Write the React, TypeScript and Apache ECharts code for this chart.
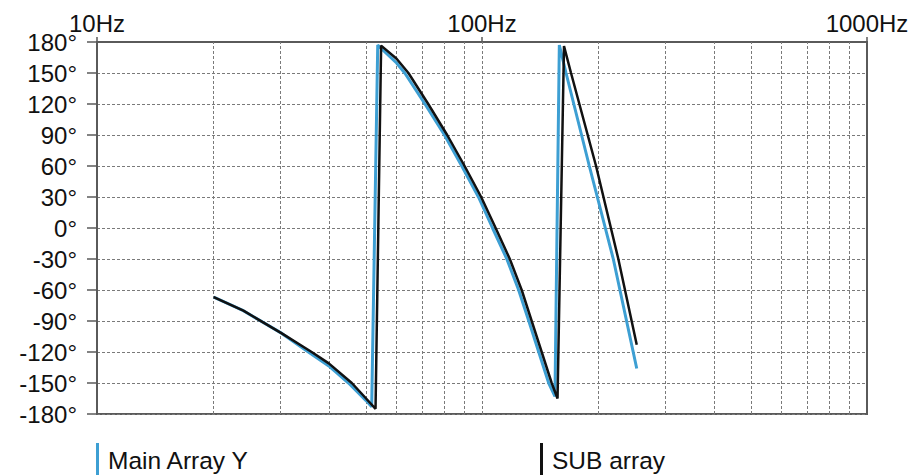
import React, { useEffect, useRef } from "react";
import * as echarts from "echarts";

// Frequencies (Hz) and phase (degrees)
const mainFreq = [
  20.1, 24.0, 30.2, 35.4, 40.0, 45.0, 50.0, 51.7,
  53.6, 60.0, 63.0, 71.1, 79.9, 88.6, 97.9, 106.5, 116.0, 124.5, 132.3, 140.4, 149.0, 154.7,
  158.8, 165.3, 190.0, 219.3, 252.3,
];
const mainPhase = [
  -67, -80, -102, -120, -133.5, -150, -167, -173,
  177, 159.7, 150, 120, 90, 60, 30, 0, -30, -60, -90, -120, -150, -163,
  177, 150, 60, -30, -136,
];

const subFreq = [
  20.1, 24.0, 30.2, 36.1, 40.0, 45.9, 50.0, 52.9,
  54.7, 60.0, 64.4, 72.5, 81.2, 90.1, 99.5, 108.5, 118.1, 126.8, 134.6, 142.9, 151.7, 157.1,
  163.3, 170.3, 197.8, 226.0, 252.3,
];
const subPhase = [
  -67, -80, -102, -120, -131, -150, -165, -175,
  176.5, 163.8, 150, 120, 90, 60, 30, 0, -30, -60, -90, -120, -150, -165,
  176, 150, 60, -30, -113,
];

const gridFreqs = [20, 30, 40, 50, 60, 70, 80, 90, 100, 200, 300, 400, 500, 600, 700, 800, 900];

const seriesNames = ["Main Array Y", "SUB array"];
const seriesColors = ["#3d9fd3", "#111111"];

const AXIS_COLOR = "#5a5a5a";
const GRID_COLOR = "#7a7a7a";
const FONT = "'Liberation Sans', Arial, Helvetica, sans-serif";

function zip(xs: number[], ys: number[]) {
  return xs.map((x, i) => [x, ys[i]]);
}

export default function App() {
  const ref = useRef<HTMLDivElement>(null);
  useEffect(() => {
    if (!ref.current) return;
    const chart = echarts.init(ref.current, undefined, { renderer: "svg" });
    chart.setOption({
      animation: false,
      textStyle: { fontFamily: FONT, fontWeight: "normal" },
      grid: {
        left: 97,
        right: 51,
        top: 42,
        bottom: 61,
        show: true,
        borderColor: AXIS_COLOR,
        borderWidth: 2,
      },
      xAxis: {
        type: "log",
        logBase: 10,
        min: 10,
        max: 1000,
        position: "top",
        axisLine: { show: true, onZero: false, lineStyle: { color: AXIS_COLOR, width: 2 } },
        axisTick: { show: true, inside: false, length: 5, lineStyle: { color: AXIS_COLOR, width: 1.5 } },
        axisLabel: {
          margin: 7,
          fontSize: 24,
          fontWeight: "normal",
          color: "#111",
          fontFamily: FONT,
          formatter: (v: number) => `${Math.round(v)}Hz`,
        },
        splitLine: { show: false },
      },
      yAxis: {
        type: "value",
        min: -180,
        max: 180,
        interval: 30,
        axisLine: { show: true, onZero: false, lineStyle: { color: AXIS_COLOR, width: 2 } },
        axisTick: { show: true, inside: false, length: 10, lineStyle: { color: AXIS_COLOR, width: 1.5 } },
        axisLabel: {
          margin: 20,
          fontSize: 24,
          fontWeight: "normal",
          color: "#111",
          fontFamily: FONT,
          formatter: (v: number) => `${v}°`,
        },
        splitLine: { show: true, lineStyle: { color: GRID_COLOR, width: 1, type: [3, 2] } },
      },
      legend: [
        {
          data: [seriesNames[0]],
          left: 96,
          top: 443,
          padding: 0,
          icon: "rect",
          itemWidth: 3,
          itemHeight: 35,
          textStyle: { fontSize: 24.5, color: "#111", fontFamily: FONT, padding: [0, 0, 0, 4] },
        },
        {
          data: [seriesNames[1]],
          left: 540,
          top: 443,
          padding: 0,
          icon: "rect",
          itemWidth: 3,
          itemHeight: 35,
          textStyle: { fontSize: 24.5, color: "#111", fontFamily: FONT, padding: [0, 0, 0, 4] },
        },
      ],
      series: [
        {
          name: "grid",
          type: "line",
          data: [],
          silent: true,
          markLine: {
            silent: true,
            symbol: ["none", "none"],
            label: { show: false },
            lineStyle: { color: GRID_COLOR, width: 1, type: [3, 2] },
            data: gridFreqs.map((f) => ({ xAxis: f })),
          },
        },
        {
          name: seriesNames[0],
          type: "line",
          data: zip(mainFreq, mainPhase),
          showSymbol: false,
          symbol: "none",
          color: seriesColors[0],
          lineStyle: { width: 3, color: seriesColors[0] },
          z: 10,
        },
        {
          name: seriesNames[1],
          type: "line",
          data: zip(subFreq, subPhase),
          showSymbol: false,
          symbol: "none",
          color: seriesColors[1],
          lineStyle: { width: 2.5, color: seriesColors[1] },
          z: 11,
        },
      ],
    });
    return () => chart.dispose();
  }, []);
  return (
    <div
      ref={ref}
      style={{ position: "fixed", left: 0, top: 0, width: 918, height: 475, background: "#fff" }}
    />
  );
}
